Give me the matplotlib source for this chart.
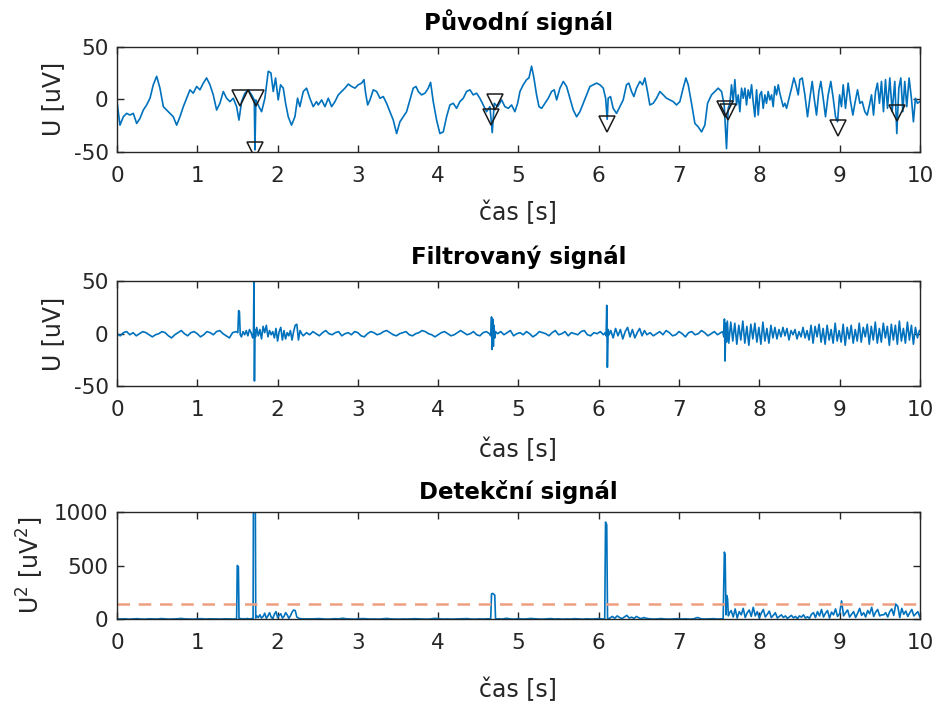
import numpy as np
import matplotlib
matplotlib.use('Agg')
import matplotlib.pyplot as plt

plt.rcParams['font.family'] = ['DejaVu Sans']
plt.rcParams['mathtext.fontset'] = 'dejavusans'
plt.rcParams['axes.unicode_minus'] = False

BLUE = '#0072BD'
AX_COL = '#262626'

# ---- original signal ----
orig_t = [0.000, 0.037, 0.079, 0.120, 0.162, 0.203, 0.245, 0.286, 0.328, 0.369, 0.411, 0.452, 0.494, 0.535,
          0.577, 0.618, 0.660, 0.701, 0.743, 0.784, 0.826, 0.867, 0.909, 0.950, 0.992, 1.033, 1.075, 1.116,
          1.158, 1.199, 1.241, 1.282, 1.324, 1.365, 1.407, 1.448, 1.490, 1.519, 1.552, 1.593, 1.635, 1.676,
          1.710, 1.718, 1.730, 1.768, 1.801, 1.842, 1.884, 1.917, 1.946, 1.975, 2.008, 2.037, 2.071, 2.100,
          2.133, 2.174, 2.216, 2.249, 2.278, 2.320, 2.361, 2.402, 2.444, 2.485,
          2.507, 2.549, 2.590, 2.632, 2.673, 2.715, 2.756, 2.798, 2.839, 2.881, 2.922, 2.964, 3.005, 3.047,
          3.076, 3.097, 3.122, 3.151, 3.192, 3.234, 3.275, 3.317, 3.358, 3.400, 3.441, 3.483, 3.524, 3.566,
          3.607, 3.649, 3.690, 3.724, 3.753, 3.794, 3.836, 3.877, 3.906, 3.939, 3.981, 4.022, 4.064, 4.105,
          4.147, 4.188, 4.230, 4.271, 4.313, 4.354, 4.396, 4.437, 4.479, 4.520, 4.562, 4.603, 4.645, 4.674,
          4.699, 4.741, 4.790, 4.832, 4.873, 4.915, 4.956,
          4.990, 5.019, 5.060, 5.102, 5.131, 5.164, 5.193, 5.226, 5.256, 5.289, 5.330, 5.372, 5.413, 5.446,
          5.476, 5.517, 5.559, 5.600, 5.642, 5.683, 5.725, 5.766, 5.808, 5.849, 5.891, 5.932, 5.974, 6.015,
          6.057, 6.086, 6.106, 6.118, 6.147, 6.180, 6.222, 6.263, 6.305, 6.346, 6.375, 6.409, 6.438, 6.471,
          6.513, 6.546, 6.575, 6.604, 6.637, 6.679, 6.720, 6.762, 6.803, 6.845, 6.886, 6.928, 6.969, 7.011,
          7.052, 7.086, 7.115, 7.156, 7.198, 7.239, 7.281, 7.322, 7.356, 7.405, 7.447, 7.488,
          7.530, 7.563, 7.592, 7.613, 7.634, 7.654, 7.675, 7.696, 7.717, 7.738, 7.758, 7.779, 7.800, 7.821,
          7.841, 7.862, 7.883, 7.904, 7.924, 7.945, 7.966, 7.987, 8.007, 8.028, 8.049, 8.070, 8.090, 8.111,
          8.132, 8.153, 8.173, 8.194, 8.215, 8.236, 8.256, 8.277, 8.298, 8.319, 8.340, 8.360, 8.381, 8.402,
          8.431, 8.456, 8.485, 8.505, 8.535, 8.568, 8.601, 8.630, 8.659, 8.684, 8.713, 8.742, 8.767, 8.796,
          8.825, 8.858, 8.891, 8.921, 8.950, 8.975, 9.000, 9.024, 9.045, 9.074, 9.107, 9.137, 9.166, 9.191,
          9.224, 9.253, 9.282, 9.315, 9.344, 9.373, 9.398, 9.423, 9.448, 9.472, 9.497, 9.522, 9.547, 9.572,
          9.597, 9.626, 9.655, 9.688, 9.713, 9.738, 9.763, 9.788, 9.812, 9.837, 9.866, 9.895, 9.920, 9.945,
          9.970, 10.000]
orig_u = [-2.1, -24.5, -16.5, -13.3, -14.9, -13.3, -22.9, -18.1, -10.1, -5.3, 1.1, 13.9, 22.0, 10.7,
          -6.9, -10.1, -13.3, -16.5, -24.5, -16.5, -6.9, 1.1, 9.1, 5.9, 12.3, 9.1, 15.5, 20.4,
          13.9, 4.3, -10.1, -3.7, 7.5, 1.1, -2.1, 1.1, -6.9, -19.7, -2.1, 5.9, 9.1, 4.3,
          -0.5, -48.0, -0.5, -6.9, -11.7, 1.1, 26.8, 25.2, 7.5, 20.4, -0.5, 13.9, 10.7, -3.7,
          -16.5, -24.5, -16.5, 1.1, -6.9, 7.5, 10.7, 1.1, -6.9, -2.1,
          -5.3, -0.5, -6.9, 1.1, -6.9, -2.1, 4.3, 7.5, 10.7, 14.6, 12.3, 10.7, 13.9, 15.5,
          18.8, 5.9, -5.3, -0.5, 9.1, 7.5, 1.1, 2.7, -3.7, -11.7, -19.7, -32.5, -21.3, -16.5,
          -11.7, -0.5, 10.7, 12.3, 7.5, 4.3, 5.9, 10.7, 16.2, -2.1, -19.7, -32.5, -30.9, -16.5,
          -5.3, -3.7, -8.5, -2.1, 1.1, 7.5, 9.1, 4.3, 5.9, 1.1, -5.3, -11.7, -6.9, -31.6,
          -3.7, -6.9, -0.5, -6.9, -8.5, -5.3, -11.7,
          -3.7, 7.5, 13.9, 18.8, 20.4, 31.6, 20.4, 4.3, -6.9, -8.5, -3.7, 1.1, 7.5, 9.1,
          -0.5, 10.7, 17.1, 12.3, 1.1, -10.1, -16.5, -11.7, -3.7, 4.3, 12.3, 13.9, 15.5, 13.9,
          10.7, 1.1, -19.0, 1.1, 2.7, -8.5, -13.3, -6.9, -0.5, 13.9, 15.5, 7.5, 2.7, 10.7,
          17.1, 13.9, 20.4, 9.1, -5.3, -3.7, 1.1, 7.5, 4.3, 1.1, -0.5, -2.1, -5.3, -2.1,
          10.7, 20.4, 13.9, -3.7, -22.9, -26.1, -30.9, -24.5, -3.7, 4.3, 7.5, 10.7,
          7.5, -5.3, -46.9, -8.5, -3.7, 13.9, -2.1, 18.8, -5.3, 4.3, -11.7, 10.7, 1.1, 10.7,
          -5.3, 9.1, 1.1, 13.9, -2.1, -16.5, 9.1, -14.9, 4.3, 7.5, -8.5, 4.3, -3.7, 7.5,
          -0.5, 4.3, -6.9, 12.3, 4.3, 13.9, 5.9, -0.5, -6.9, -3.7, -8.5, -2.1, 4.3, 10.7,
          20.4, 13.9, 4.3, 18.8, 20.4, 4.3, -16.5, 1.1, 17.1, 1.1, -14.9, 7.5, 17.1, 1.1,
          -16.5, 4.3, 17.1, 1.1, -16.5, -21.3, 4.3, -6.9, 13.9, -8.5, 15.5, -2.1, -14.9, -3.7,
          9.1, -3.7, -2.1, -11.7, -14.9, -5.3, 4.3, -14.9, 7.5, 15.5, -3.7, 17.1, -11.7, 18.8,
          -8.5, 20.4, -11.7, 17.1, -32.5, 10.7, 20.4, -11.7, 17.1, -6.9, 20.4, 1.1, -21.3, 1.1,
          -3.7, -2.0]

# detected events (triangles)
mark_t = [1.53, 1.73, 1.72, 4.66, 4.71, 6.10, 7.57, 7.61, 8.98, 9.71]
mark_u = [1, 1, -48, -17, -2, -23, -9, -12, -27, -13]

# ---- filtered signal: quiet/busy stretches sampled evenly, spikes listed ----
filt_a_start, filt_a_step = 0.00, 0.04
filt_a = [0, -2, 1, 2, -1, 1, -2, 0, 2, 1, -1, -3, -1, 0, 2, 1, -2, -4, -1, 1, 3, 0, -2, 1, 2, 0, -3, -1,
          2, 1, -1, 2, 3, 0, -2, -4, 1, 2]
filt_s1_t = [1.505, 1.515, 1.525, 1.535, 1.55, 1.57, 1.59, 1.61, 1.63, 1.65, 1.67, 1.69, 1.700, 1.706,
             1.712, 1.718, 1.725]
filt_s1 = [1, 22, 21, -1, -3, 2, -1, 3, -2, 4, 1, -4, 2, 50, -45, 4, -3]
filt_b_start, filt_b_step = 1.74, 0.02
filt_b = [6, -2, 4, -5, 7, 1, 8, -3, 3, -1, 2, -4, 5, -7, 2, 6, -6, 3, -5, 1, -2, 3, -6, 2, 8, 9, -6, 3, 0, -2]
filt_c_start, filt_c_step = 2.36, 0.04
filt_c = [1, -1, 2, 0, -2, 1, 3, 0, -1, 1, 2, -2, 0, 1, -1, 2, 1, -2, -3, 0, 2, 1, -1, 0, 2, 3, 1, -1,
          -2, 0, 1, 2, -1, -2, 0, 1, 3, 2, 0, -1, -3, -1, 1, 2, 0, -2, -1, 1, 3, 1, -1, 0, 2, -1, -2, 1, 2, 0]
filt_s2_t = [4.655, 4.665, 4.672, 4.68, 4.688, 4.696, 4.705, 4.715]
filt_s2 = [-2, 16, -15, 14, -12, 8, -4, 2]
filt_d_start, filt_d_step = 4.74, 0.04
filt_d = [0, 2, -1, 1, 3, -2, 0, 1, -1, 2, 0, -3, -1, 2, 1, 0, -2, 1, 3, -1, 0, 2, -2, 1, 0, -1, 2, 3,
          -1, -2, 1, 0, 2, -1]
filt_s3_t = [6.08, 6.092, 6.100, 6.108, 6.118, 6.13]
filt_s3 = [1, -2, 27, -32, 4, -1]
filt_e_start, filt_e_step = 6.15, 0.03
filt_e = [3, -4, 5, -2, 4, -5, 2, 6, -3, 4, -4, 1, 5, -2, 3, -1]
filt_f_start, filt_f_step = 6.64, 0.04
filt_f = [1, -2, 0, 2, -1, 3, 1, -2, -1, 2, 0, -3, 1, 2, -1, 0, 3, 1, -2, 0, 2, -1, 1]
filt_s4_t = [7.545, 7.558, 7.566, 7.574, 7.582, 7.592, 7.602]
filt_s4 = [2, -3, 14, -26, 10, -8, 12]
filt_g_start, filt_g_step = 7.62, 0.025
filt_g = [-9, 11, -7, 10, -10, 8, -6, 12, -9, 7, -11, 9, -5, 10, -8, 6, -10, 11, -7, 5, -9, 8, -4, 6,
          -5, 4, -3, 6, -2, 5, -6, 3, -1, 4, -5, 2, -3, 6, -4, 3,
          -6, 8, -9, 7, -3, 9, -8, 5, -10, 8, -6, 4, -9, 10, -7, 3, -8, 9, -11, 6, -5, 8, -9, 4,
          -7, 10, -8, 6, -3, 9, -10, 7, -6, 11, -9, 5, -8, 10, -4, 7, -11, 9, -6, 8, -10, 12, -7, 5,
          -9, 11, -6, 8, -10, 6, -4, 3]

# ---- detection signal ----
det_a_start, det_a_step = 0.00, 0.05
det_a = [2, 1, 3, 0, 2, 4, 1, 0, 3, 2, 1, 5, 2, 0, 1, 3, 6, 2, 1, 0, 2, 4, 1, 3, 2, 0, 1, 3, 2, 1]
det_s1_t = [1.49, 1.498, 1.512, 1.52, 1.54, 1.56, 1.58, 1.60, 1.62, 1.64, 1.66, 1.68, 1.695, 1.70,
            1.722, 1.728, 1.74]
det_s1 = [2, 500, 490, 3, 5, 2, 4, 1, 6, 3, 2, 5, 3, 1300, 1300, 10, 30]
det_b_start, det_b_step = 1.76, 0.02
det_b = [15, 40, 10, 25, 55, 8, 30, 60, 20, 5, 45, 70, 15, 35, 50, 10, 25, 60, 40, 8, 30, 65, 85, 80,
         20, 10, 5, 3, 2]
det_c_start, det_c_step = 2.36, 0.05
det_c = [2, 1, 3, 5, 2, 0, 1, 4, 2, 8, 3, 1, 0, 2, 5, 3, 1, 2, 0, 3, 6, 2, 1, 0, 2, 1, 3, 4, 2, 1,
         0, 2, 7, 3, 1, 2, 0, 1, 3, 2, 5, 1, 0, 2, 1, 3]
det_s2_t = [4.645, 4.655, 4.665, 4.68, 4.695, 4.705, 4.715, 4.73]
det_s2 = [3, 5, 235, 240, 230, 225, 5, 2]
det_d_start, det_d_step = 4.75, 0.05
det_d = [3, 1, 8, 2, 0, 4, 1, 2, 6, 3, 1, 0, 2, 5, 1, 3, 0, 2, 1, 4, 2, 0, 3, 1, 2, 5, 1]
det_s3_t = [6.075, 6.085, 6.10, 6.11, 6.12]
det_s3 = [3, 905, 880, 10, 3]
det_e_start, det_e_step = 6.14, 0.03
det_e = [10, 25, 8, 30, 15, 5, 20, 35, 10, 18, 6, 25, 12, 4, 15, 8]
det_f_start, det_f_step = 6.63, 0.05
det_f = [3, 1, 2, 5, 1, 0, 2, 4, 1, 3, 0, 2, 15, 2, 1, 3, 4, 1, 2]
det_s4_t = [7.55, 7.565, 7.575, 7.585, 7.595, 7.605, 7.615, 7.63]
det_s4 = [3, 625, 600, 40, 220, 190, 30, 60]
det_g_start, det_g_step = 7.65, 0.025
det_g = [80, 20, 95, 10, 70, 40, 100, 15, 60, 85, 25, 110, 30, 70, 10, 55, 90, 20, 45, 75,
         15, 35, 60, 10, 25, 40, 15, 30, 8, 20, 35, 12, 25, 5, 30, 18, 40, 10, 22, 8,
         45, 60, 15, 70, 30, 90, 20, 55, 80, 10, 65, 40, 95, 25, 50, 170, 30, 60, 85, 20,
         45, 70, 15, 55, 100, 35, 60, 20, 80, 50, 110, 25, 65, 90, 30, 40, 40, 60, 20, 70,
         95, 35, 140, 120, 15, 100, 45, 75, 25, 60, 90, 30, 50, 70, 20]
threshold = 140


def even(start, step, vals):
    return start + step * np.arange(len(vals)), np.asarray(vals, float)


def join(parts):
    t = np.concatenate([p[0] for p in parts])
    u = np.concatenate([p[1] for p in parts])
    order = np.argsort(t, kind='stable')
    return t[order], u[order]


filt_t, filt_u = join([
    even(filt_a_start, filt_a_step, filt_a), (np.array(filt_s1_t), np.array(filt_s1, float)),
    even(filt_b_start, filt_b_step, filt_b), even(filt_c_start, filt_c_step, filt_c),
    (np.array(filt_s2_t), np.array(filt_s2, float)), even(filt_d_start, filt_d_step, filt_d),
    (np.array(filt_s3_t), np.array(filt_s3, float)), even(filt_e_start, filt_e_step, filt_e),
    even(filt_f_start, filt_f_step, filt_f), (np.array(filt_s4_t), np.array(filt_s4, float)),
    even(filt_g_start, filt_g_step, filt_g)])

det_t, det_u = join([
    even(det_a_start, det_a_step, det_a), (np.array(det_s1_t), np.array(det_s1, float)),
    even(det_b_start, det_b_step, det_b), even(det_c_start, det_c_step, det_c),
    (np.array(det_s2_t), np.array(det_s2, float)), even(det_d_start, det_d_step, det_d),
    (np.array(det_s3_t), np.array(det_s3, float)), even(det_e_start, det_e_step, det_e),
    even(det_f_start, det_f_step, det_f), (np.array(det_s4_t), np.array(det_s4, float)),
    even(det_g_start, det_g_step, det_g)])

fig = plt.figure(figsize=(9.39, 7.10), dpi=100)
fig.patch.set_facecolor('white')

left, width, h = 0.1246, 0.855, 0.148
ax1 = fig.add_axes([left, 0.786, width, h])
ax2 = fig.add_axes([left, 0.456, width, h])
ax3 = fig.add_axes([left, 0.128, width, 0.151])


def style(ax, title, ylabel, tpad, xpad):
    ax.set_xlim(0, 10)
    ax.set_xticks(range(0, 11))
    for s in ax.spines.values():
        s.set_color(AX_COL)
        s.set_linewidth(1.0)
    ax.tick_params(direction='in', top=True, right=True, length=5, width=1.0, colors=AX_COL,
                   labelsize=15.5)
    ax.tick_params(axis='x', pad=10)
    ax.tick_params(axis='y', pad=6)
    ax.set_title(title, fontsize=16.5, fontweight='bold', pad=tpad, color='black')
    ax.set_xlabel('čas [s]', fontsize=17, labelpad=xpad, color=AX_COL)
    ax.set_ylabel(ylabel, fontsize=17, labelpad=6, color=AX_COL)


ax1.plot(orig_t, orig_u, color=BLUE, lw=1.2)
ax1.plot(mark_t, mark_u, 'v', ms=11.5, mfc='none', mec='#1a1a1a', mew=1.1)
ax1.set_ylim(-50, 50)
ax1.set_yticks([-50, 0, 50])
style(ax1, 'Původní signál', 'U [uV]', 12, 11)

ax2.plot(filt_t, filt_u, color=BLUE, lw=1.2)
ax2.set_ylim(-50, 50)
ax2.set_yticks([-50, 0, 50])
style(ax2, 'Filtrovaný signál', 'U [uV]', 12, 13)

ax3.plot(det_t, det_u, color=BLUE, lw=1.2)
ax3.axhline(threshold, color='#EE9F80', lw=1.8, dashes=(5, 3.5))
ax3.set_ylim(0, 1000)
ax3.set_yticks([0, 500, 1000])
style(ax3, 'Detekční signál', 'U$^2$ [uV$^2$]', 9, 18)

fig.savefig('out.png', dpi=100, facecolor='white')
plt.close(fig)
